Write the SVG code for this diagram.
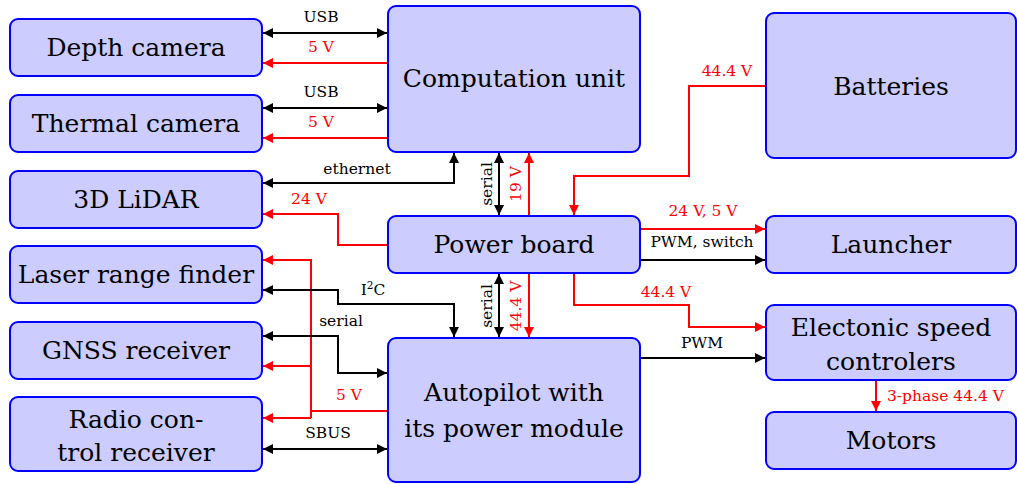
<svg xmlns="http://www.w3.org/2000/svg" width="1017" height="484" viewBox="0 0 1017 484">
<style>
.n{fill:#ccccff;stroke:#0000ff;stroke-width:2}
.t{font-family:"DejaVu Serif","Liberation Serif",serif;font-size:25px;fill:#000;text-anchor:middle}
.l{font-family:"DejaVu Serif","Liberation Serif",serif;font-size:15.5px;text-anchor:middle}
.k{fill:#000}
.r{fill:#ff0000}
.cb{fill:none;stroke:#000;stroke-width:2}
.cr{fill:none;stroke:#ff0000;stroke-width:2}
</style>
<defs>
<marker id="ab" markerUnits="userSpaceOnUse" markerWidth="12" markerHeight="12" refX="11" refY="6" orient="auto-start-reverse"><path d="M1,1 L11,6 L1,11 z" fill="#000"/></marker>
<marker id="ar" markerUnits="userSpaceOnUse" markerWidth="12" markerHeight="12" refX="11" refY="6" orient="auto-start-reverse"><path d="M1,1 L11,6 L1,11 z" fill="#ff0000"/></marker>
</defs>
<g id="connectors">
<path class="cb" d="M263,33 H387" marker-start="url(#ab)" marker-end="url(#ab)"/>
<path class="cr" d="M387,63 H263" marker-end="url(#ar)"/>
<path class="cb" d="M263,108 H387" marker-start="url(#ab)" marker-end="url(#ab)"/>
<path class="cr" d="M387,138 H263" marker-end="url(#ar)"/>
<path class="cb" d="M263,183 H454 V153" marker-start="url(#ab)" marker-end="url(#ab)"/>
<path class="cr" d="M387,245 H338 V214 H263" marker-end="url(#ar)"/>
<path class="cr" d="M387,411 H311"/>
<path class="cr" d="M311,418 V260 H263" marker-end="url(#ar)"/>
<path class="cr" d="M311,366 H263" marker-end="url(#ar)"/>
<path class="cr" d="M311,418 H263" marker-end="url(#ar)"/>
<path class="cb" d="M263,290 H338 V304 H454 V337" marker-start="url(#ab)" marker-end="url(#ab)"/>
<path class="cb" d="M263,336 H338 V373 H387" marker-start="url(#ab)" marker-end="url(#ab)"/>
<path class="cb" d="M263,449 H387" marker-start="url(#ab)" marker-end="url(#ab)"/>
<path class="cb" d="M499,153 V215" marker-start="url(#ab)" marker-end="url(#ab)"/>
<path class="cr" d="M529,215 V153" marker-end="url(#ar)"/>
<path class="cb" d="M499,274 V337" marker-start="url(#ab)" marker-end="url(#ab)"/>
<path class="cr" d="M529,274 V337" marker-end="url(#ar)"/>
<path class="cr" d="M765,86 H689 V176 H574 V215" marker-end="url(#ar)"/>
<path class="cr" d="M641,229 H765" marker-end="url(#ar)"/>
<path class="cb" d="M641,260 H765" marker-end="url(#ab)"/>
<path class="cr" d="M574,274 V305 H689 V327 H765" marker-end="url(#ar)"/>
<path class="cb" d="M641,358 H765" marker-end="url(#ab)"/>
<path class="cr" d="M876,381 V411" marker-end="url(#ar)"/>
<text class="l k" x="321" y="22">USB</text>
<text class="l r" x="321" y="52">5 V</text>
<text class="l k" x="321" y="97">USB</text>
<text class="l r" x="321" y="127">5 V</text>
<text class="l k" x="357" y="174">ethernet</text>
<text class="l r" x="309" y="204">24 V</text>
<text class="l k" x="373" y="295">I<tspan dy="-6" font-size="10.5">2</tspan><tspan dy="6">C</tspan></text>
<text class="l k" x="341" y="326">serial</text>
<text class="l r" x="349" y="400">5 V</text>
<text class="l k" x="328" y="438">SBUS</text>
<text class="l k" transform="translate(492,184) rotate(-90)">serial</text>
<text class="l r" transform="translate(521,184) rotate(-90)">19 V</text>
<text class="l k" transform="translate(492,306) rotate(-90)">serial</text>
<text class="l r" transform="translate(521,306) rotate(-90)">44.4 V</text>
<text class="l r" x="727" y="76">44.4 V</text>
<text class="l r" x="703" y="216">24 V, 5 V</text>
<text class="l k" x="702" y="247">PWM, switch</text>
<text class="l r" x="666" y="297">44.4 V</text>
<text class="l k" x="702" y="348">PWM</text>
<text class="l r" x="887" y="401" style="text-anchor:start">3-phase 44.4 V</text>
</g>
<g id="depth-camera"><rect class="n" x="10" y="19" width="252" height="57" rx="8"/><text class="t" x="136" y="56">Depth camera</text></g>
<g id="thermal-camera"><rect class="n" x="10" y="95" width="252" height="57" rx="8"/><text class="t" x="136" y="132">Thermal camera</text></g>
<g id="lidar"><rect class="n" x="10" y="171" width="252" height="57" rx="8"/><text class="t" x="136" y="208">3D LiDAR</text></g>
<g id="laser-range-finder"><rect class="n" x="10" y="246" width="252" height="57" rx="8"/><text class="t" x="136" y="283">Laser range finder</text></g>
<g id="gnss-receiver"><rect class="n" x="10" y="322" width="252" height="57" rx="8"/><text class="t" x="136" y="359">GNSS receiver</text></g>
<g id="radio-control-receiver"><rect class="n" x="10" y="397" width="252" height="74" rx="8"/><text class="t" x="136" y="428">Radio con-</text><text class="t" x="136" y="461">trol receiver</text></g>
<g id="computation-unit"><rect class="n" x="388" y="6" width="252" height="146" rx="8"/><text class="t" x="514" y="87">Computation unit</text></g>
<g id="power-board"><rect class="n" x="388" y="216" width="252" height="57" rx="8"/><text class="t" x="514" y="253">Power board</text></g>
<g id="autopilot"><rect class="n" x="388" y="338" width="252" height="144" rx="8"/><text class="t" x="514" y="401">Autopilot with</text><text class="t" x="514" y="437">its power module</text></g>
<g id="batteries"><rect class="n" x="766" y="13" width="250" height="145" rx="8"/><text class="t" x="891" y="95">Batteries</text></g>
<g id="launcher"><rect class="n" x="766" y="216" width="250" height="57" rx="8"/><text class="t" x="891" y="253">Launcher</text></g>
<g id="esc"><rect class="n" x="766" y="305" width="250" height="75" rx="8"/><text class="t" x="891" y="336">Electonic speed</text><text class="t" x="891" y="370">controlers</text></g>
<g id="motors"><rect class="n" x="766" y="412" width="250" height="57" rx="8"/><text class="t" x="891" y="449">Motors</text></g>
</svg>
